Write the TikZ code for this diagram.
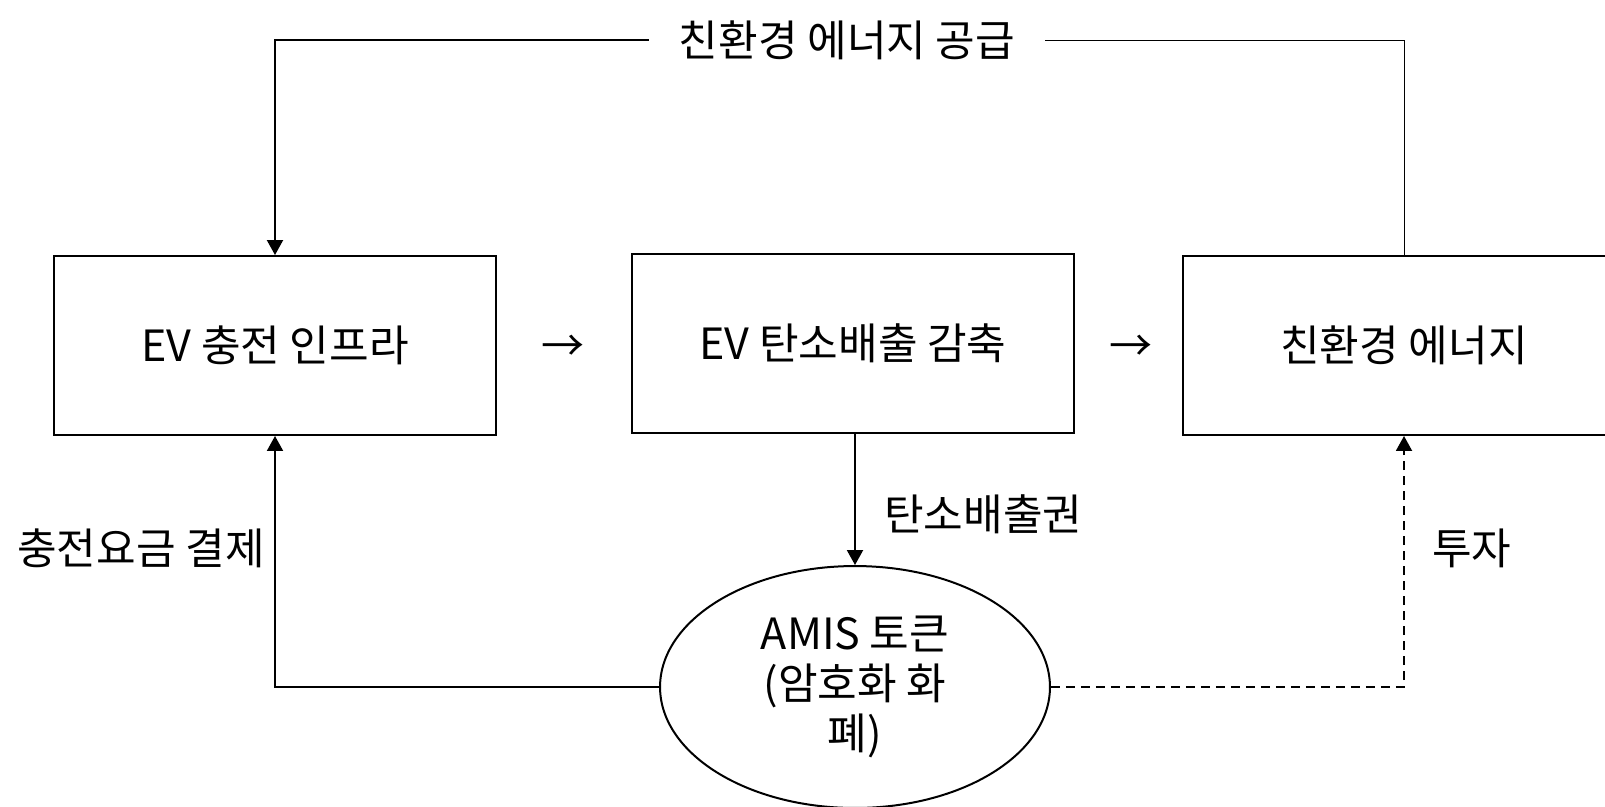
\documentclass[tikz,border=0pt]{standalone}
\usepackage{fontspec}
\setmainfont{Noto Sans CJK KR}
\usetikzlibrary{arrows.meta, calc, positioning, shapes.geometric}

\begin{document}
\begin{tikzpicture}[x=0.02cm, y=-0.02cm, >={Triangle[width=3.2mm, length=3mm]},
        font=\fontsize{24.5}{28.5}\selectfont,
        stage/.style={draw, line width=0.04cm, minimum width=8.84cm, minimum height=3.58cm, inner sep=0},
        flow/.style={line width=0.04cm},
        tag/.style={inner sep=0}]
        \clip (0, 0) rectangle (1605, 806);
        \node[stage] (infra) at (275, 345.5) {EV 충전 인프라};
        \node[stage] (cut) at (853, 343.5) {EV 탄소배출 감축};
        \node[stage] (green) at (1404, 345.5) {친환경 에너지};
        \node (stepA) at (563, 348) {→};
        \node (stepB) at (1131, 348) {→};
        \node[draw, ellipse, line width=0.04cm, minimum width=7.8cm, minimum height=4.84cm, inner sep=0, align=center] (token) at (855, 687) {AMIS 토큰\\(암호화 화\\폐)};
        \node[inner xsep=0.6cm] (supply) at (847, 40) {친환경 에너지 공급};
        \node[tag, anchor=west] (credit) at (884, 514) {탄소배출권};
        \node[tag, anchor=east] (fee) at (265, 548) {충전요금 결제};
        \node[tag, anchor=west] (invest) at (1432, 548) {투자};
        % feedback loops
        \draw[line width=0.02cm] (green.north) |- (supply.east);
        \draw[flow, ->] (supply.west) -| (infra.north);
        \draw[flow, ->] (token.north |- cut.south) -- (token.north);
        \draw[flow, ->] (token.west) -| (infra.south);
        \draw[flow, dash pattern=on 0.18cm off 0.12cm, ->] (token.east) -| (green.south);
\end{tikzpicture}
\end{document}
